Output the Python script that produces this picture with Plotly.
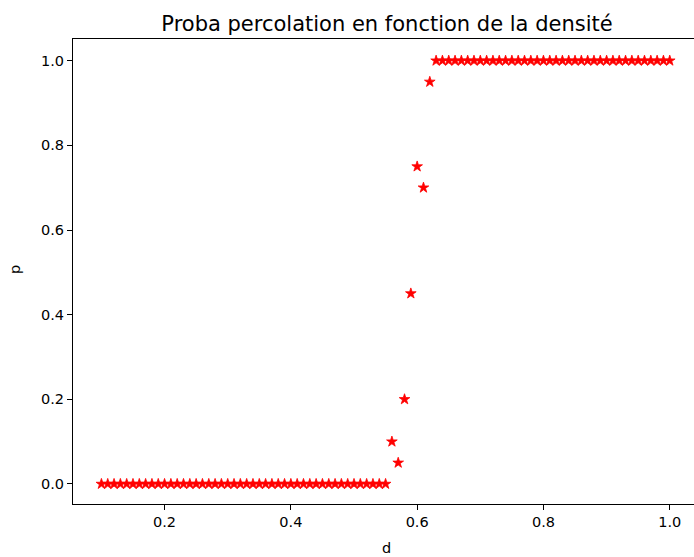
import plotly.graph_objects as go

# Data
densite = [0.10, 0.11, 0.12, 0.13, 0.14, 0.15, 0.16, 0.17, 0.18, 0.19,
           0.20, 0.21, 0.22, 0.23, 0.24, 0.25, 0.26, 0.27, 0.28, 0.29,
           0.30, 0.31, 0.32, 0.33, 0.34, 0.35, 0.36, 0.37, 0.38, 0.39,
           0.40, 0.41, 0.42, 0.43, 0.44, 0.45, 0.46, 0.47, 0.48, 0.49,
           0.50, 0.51, 0.52, 0.53, 0.54, 0.55, 0.56, 0.57, 0.58, 0.59,
           0.60, 0.61, 0.62, 0.63, 0.64, 0.65, 0.66, 0.67, 0.68, 0.69,
           0.70, 0.71, 0.72, 0.73, 0.74, 0.75, 0.76, 0.77, 0.78, 0.79,
           0.80, 0.81, 0.82, 0.83, 0.84, 0.85, 0.86, 0.87, 0.88, 0.89,
           0.90, 0.91, 0.92, 0.93, 0.94, 0.95, 0.96, 0.97, 0.98, 0.99,
           1.00]
proba = [0.0, 0.0, 0.0, 0.0, 0.0, 0.0, 0.0, 0.0, 0.0, 0.0,
         0.0, 0.0, 0.0, 0.0, 0.0, 0.0, 0.0, 0.0, 0.0, 0.0,
         0.0, 0.0, 0.0, 0.0, 0.0, 0.0, 0.0, 0.0, 0.0, 0.0,
         0.0, 0.0, 0.0, 0.0, 0.0, 0.0, 0.0, 0.0, 0.0, 0.0,
         0.0, 0.0, 0.0, 0.0, 0.0, 0.0, 0.10, 0.05, 0.20, 0.45,
         0.75, 0.70, 0.95, 1.0, 1.0, 1.0, 1.0, 1.0, 1.0, 1.0,
         1.0, 1.0, 1.0, 1.0, 1.0, 1.0, 1.0, 1.0, 1.0, 1.0,
         1.0, 1.0, 1.0, 1.0, 1.0, 1.0, 1.0, 1.0, 1.0, 1.0,
         1.0, 1.0, 1.0, 1.0, 1.0, 1.0, 1.0, 1.0, 1.0, 1.0,
         1.0]
x_ticks = [0.2, 0.4, 0.6, 0.8, 1.0]
y_ticks = [0.0, 0.2, 0.4, 0.6, 0.8, 1.0]

W, H = 694, 557
font = "DejaVu Sans"

fig = go.Figure()
fig.add_trace(go.Scatter(
    x=densite, y=proba, mode="markers",
    marker=dict(symbol="star", size=8, color="red",
                line=dict(width=0.8, color="red")),
    showlegend=False,
))

fig.update_layout(
    width=W, height=H,
    margin=dict(l=73, r=0, t=39, b=53),
    plot_bgcolor="white", paper_bgcolor="white",
    font=dict(family=font, size=14.5, color="black"),
    title=dict(text="Proba percolation en fonction de la densité",
               xref="container", x=387 / W, xanchor="center",
               yref="container", y=1 - 24 / H, yanchor="middle",
               font=dict(family=font, size=21, color="black")),
    xaxis=dict(range=[0.055, 1.0384], tickvals=x_ticks,
               ticktext=[f"{v:.1f}" for v in x_ticks],
               showgrid=False, zeroline=False, showline=True,
               linecolor="black", linewidth=1, mirror=True,
               ticks="outside", ticklen=5, tickwidth=1, tickcolor="black"),
    yaxis=dict(range=[-0.0473, 1.0513], tickvals=y_ticks,
               ticktext=[f"{v:.1f}" for v in y_ticks],
               showgrid=False, zeroline=False, showline=True,
               linecolor="black", linewidth=1, mirror=False,
               ticks="outside", ticklen=5, tickwidth=1, tickcolor="black"),
    annotations=[
        dict(text="d", xref="paper", yref="paper", x=(386 - 73) / (W - 73),
             y=-(548 - 504) / (H - 39 - 53), xanchor="center", yanchor="middle",
             showarrow=False, font=dict(family=font, size=14.5)),
        dict(text="p", xref="paper", yref="paper", x=-(73 - 15) / (W - 73),
             y=(504 - 270) / (H - 39 - 53), xanchor="center", yanchor="middle",
             textangle=-90, showarrow=False, font=dict(family=font, size=14.5)),
    ],
)

fig.write_html("out.html")
